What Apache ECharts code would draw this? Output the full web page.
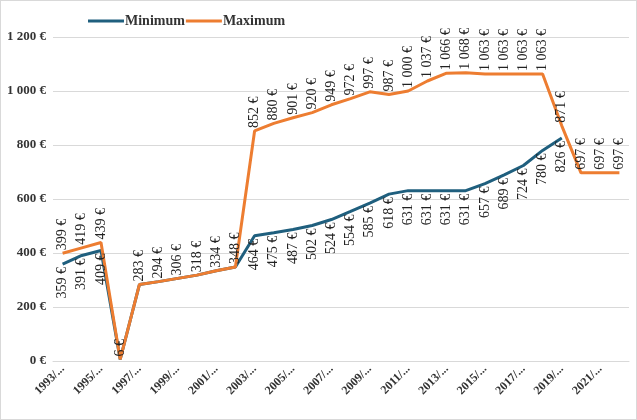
<!DOCTYPE html>
<html>
<head>
<meta charset="utf-8">
<script src="https://cdn.jsdelivr.net/npm/echarts@6/dist/echarts.min.js"></script>
<style>
html,body{margin:0;padding:0;background:#fff;}
#wrap{position:absolute;left:0;top:0;width:635px;height:418px;border:1px solid #d9d9d9;}
#c{width:635px;height:418px;}
</style>
</head>
<body>
<div id="wrap"><div id="c"></div></div>
<script>
var categories = ['1993/1994','1994/1995','1995/1996','1996/1997','1997/1998','1998/1999','1999/2000','2000/2001','2001/2002','2002/2003',
  '2003/2004','2004/2005','2005/2006','2006/2007','2007/2008','2008/2009','2009/2010','2010/2011','2011/2012','2012/2013',
  '2013/2014','2014/2015','2015/2016','2016/2017','2017/2018','2018/2019','2019/2020','2020/2021','2021/2022','2022/2023'];
var minimumValues = [359,391,409,6,283,294,306,318,334,348,
  464,475,487,502,524,554,585,618,631,631,
  631,631,657,689,724,780,826,null,null,null];
var maximumValues = [399,419,439,6,283,294,306,318,334,348,
  852,880,901,920,949,972,997,987,1000,1037,
  1066,1068,1063,1063,1063,1063,871,697,697,697];
var yTicks = {min:0, max:1200, interval:200};

function euro(v){
  return String(v).replace(/\B(?=(\d{3})+(?!\d))/g,' ') + ' €';
}
var serif = '"Liberation Serif","DejaVu Serif",serif';
var chart = echarts.init(document.getElementById('c'), null, {renderer:'canvas'});
chart.setOption({
  animation:false,
  legend:{
    left:82, top:8, itemWidth:36, itemHeight:3, itemGap:1,
    icon:'rect',
    textStyle:{fontFamily:serif, fontWeight:'bold', fontSize:14, color:'#333', padding:[0,0,0,-4]},
    data:['Minimum','Maximum']
  },
  grid:{left:52, right:7, top:36, bottom:58},
  xAxis:{
    type:'category', data:categories, boundaryGap:true,
    axisLine:{lineStyle:{color:'#d9d9d9'}},
    axisTick:{show:false},
    axisLabel:{interval:1, rotate:45, margin:6, fontFamily:serif, fontWeight:'bold', fontSize:12, color:'#333',
      formatter:function(v){return v.slice(0,5)+'...';}}
  },
  yAxis:{
    type:'value', min:yTicks.min, max:yTicks.max, interval:yTicks.interval,
    axisLine:{show:false}, axisTick:{show:false},
    splitLine:{lineStyle:{color:'#d9d9d9'}},
    axisLabel:{fontFamily:serif, fontWeight:'bold', fontSize:13, color:'#333', margin:7, formatter:euro}
  },
  series:[
    {
      name:'Minimum', type:'line', data:minimumValues, symbol:'circle', symbolSize:0, showSymbol:true,
      lineStyle:{width:3, color:'#1f5f7e'}, itemStyle:{color:'#1f5f7e'},
      label:{show:true, position:'bottom', rotate:90, align:'right', verticalAlign:'middle', distance:3,
        fontFamily:serif, fontSize:14, color:'#222',
        formatter:function(p){ return (p.value===maximumValues[p.dataIndex]) ? '' : euro(p.value); }}
    },
    {
      name:'Maximum', type:'line', data:maximumValues, symbol:'circle', symbolSize:0, showSymbol:true,
      lineStyle:{width:3, color:'#ed7d31'}, itemStyle:{color:'#ed7d31'},
      label:{show:true, position:'top', rotate:90, align:'left', verticalAlign:'middle', distance:3,
        fontFamily:serif, fontSize:14, color:'#222',
        formatter:function(p){ return euro(p.value); }}
    }
  ]
});
</script>
</body>
</html>
